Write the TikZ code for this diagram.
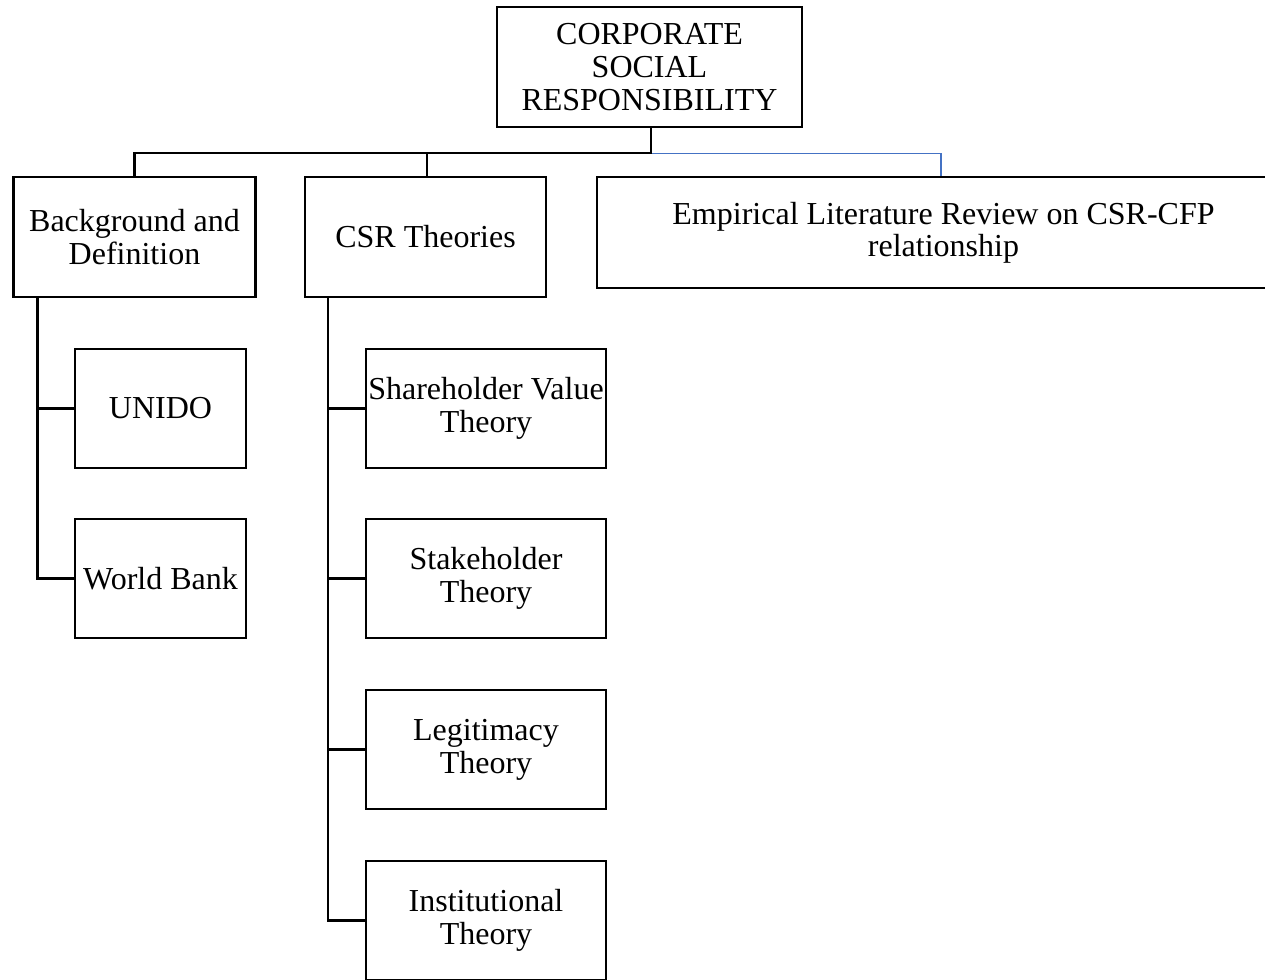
\documentclass[tikz,border=0pt]{standalone}
\usepackage{fontspec}
\setmainfont{Liberation Serif}
\usetikzlibrary{calc}
\definecolor{linkblue}{RGB}{68,114,196}
\begin{document}
\begin{tikzpicture}[x=1pt,y=-1pt,
  box/.style={draw=black,line width=2.3pt,inner sep=0pt,align=center,
    font=\fontsize{32}{33}\selectfont},
  conn/.style={draw=black,line width=2.3pt},
  bconn/.style={draw=linkblue,line width=1.3pt}]
\useasboundingbox (0,0) rectangle (1265,979);
\begin{scope}
\clip (0,0) rectangle (1265,979);
\node[box,minimum width=305pt,minimum height=120pt] (top) at (649.5,67) {CORPORATE\\SOCIAL\\RESPONSIBILITY};
\node[box,minimum width=242pt,minimum height=120pt] (bg) at (134.5,237) {Background and\\Definition};
\node[box,minimum width=241pt,minimum height=120pt] (csr) at (425.5,237) {CSR Theories};
\node[box,minimum width=693pt,minimum height=111pt] (emp) at (943.5,232.5) {\raisebox{-4pt}{\shortstack{Empirical Literature Review on CSR-CFP\\relationship}}};
\node[box,minimum width=171pt,minimum height=119pt] (unido) at (160.5,408.5) {UNIDO};
\node[box,minimum width=171pt,minimum height=119pt] (wb) at (160.5,578.5) {World Bank};
\node[box,minimum width=240pt,minimum height=119pt] (sh) at (486,408.5) {Shareholder Value\\Theory};
\node[box,minimum width=240pt,minimum height=119pt] (st) at (486,578.5) {Stakeholder\\Theory};
\node[box,minimum width=240pt,minimum height=119pt] (lg) at (486,749.5) {Legitimacy\\Theory};
\node[box,minimum width=240pt,minimum height=119pt] (inst) at (486,920.5) {Institutional\\Theory};

\coordinate (j) at ($(top.south)+(1.5,25)$);
\coordinate (jb) at ($(j)+(290,0)$);
\draw[bconn] (j) -- (jb) -- (jb |- emp.north);
\draw[conn] (top.south -| j) -- (j) -| (bg.north);
\draw[conn] (j) -| ($(csr.north)+(1.5,0)$);
\coordinate (bs) at ($(bg.south west)+(25,0)$);
\draw[conn] (bs) |- (unido.west);
\draw[conn] (bs) |- (wb.west);
\coordinate (cs) at ($(csr.south west)+(24,0)$);
\draw[conn] (cs) |- (sh.west);
\draw[conn] (cs) |- (st.west);
\draw[conn] (cs) |- (lg.west);
\draw[conn] (cs) |- (inst.west);
\end{scope}
\end{tikzpicture}
\end{document}
